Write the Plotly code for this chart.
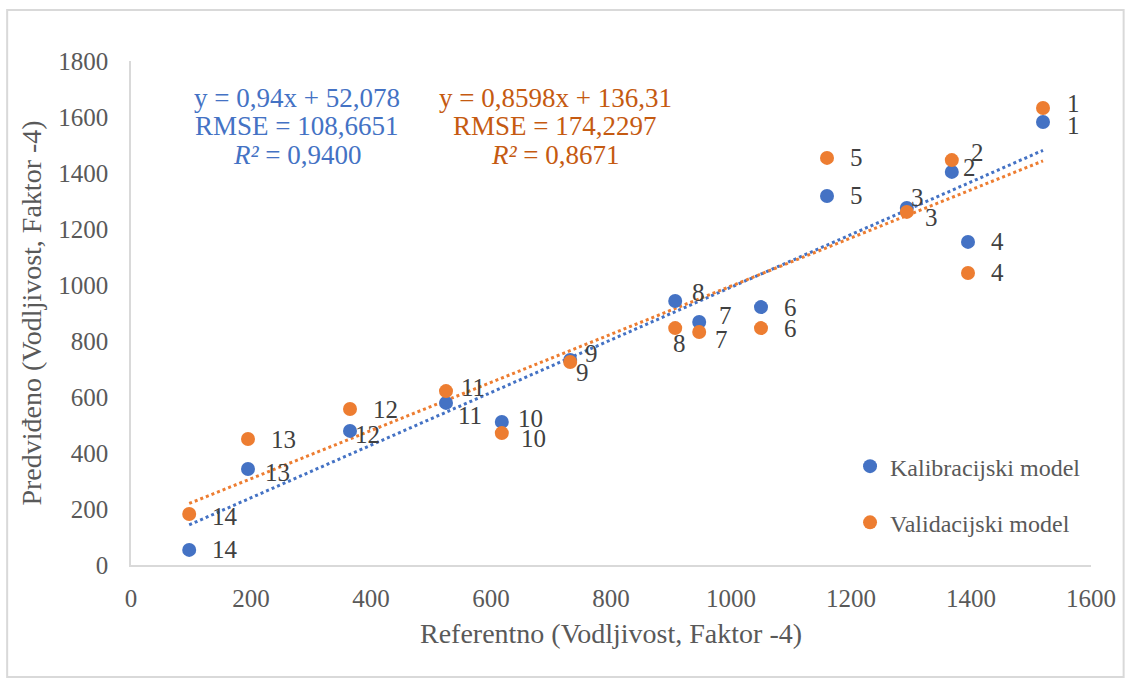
import plotly.graph_objects as go

# Reference conductivity (x) shared by both models, sample ids 1..14
sample_ids = [str(i) for i in range(1, 15)]
referentno = [1520, 1368, 1293, 1395, 1160, 1050, 947, 907, 732, 618, 525, 365, 195, 97]

# Predicted values
kalibracija = [1582, 1404, 1275, 1154, 1318, 921, 868, 943, 732, 511, 579, 479, 343, 54]
validacija = [1632, 1446, 1261, 1043, 1454, 846, 832, 846, 725, 471, 621, 557, 450, 182]

# Fit statistics
cal_slope, cal_intercept, cal_rmse, cal_r2 = 0.94, 52.078, 108.6651, 0.9400
val_slope, val_intercept, val_rmse, val_r2 = 0.8598, 136.31, 174.2297, 0.8671

# Data label offsets in pixels (dx right, dy down)
cal_label_offsets = [(30, 3), (18, -4), (11, -11), (29, 0), (29, 0), (29, 0), (26, -6),
                     (23, -8), (21, -7), (29, -3), (24, 13), (17, 4), (29, 4), (36, 0)]
val_label_offsets = [(30, -5), (26, -8), (25, 6), (29, 0), (29, 0), (29, 0), (22, 7),
                     (4, 15), (12, 10), (32, 5), (27, -4), (35, 0), (35, 0), (36, 2)]

BLUE = "#4472C4"
ORANGE = "#ED7D31"
ORANGE_TEXT = "#C55A11"
GREY = "#595959"
SERIF = "Liberation Serif"


def dec(v, nd):
    return f"{v:.{nd}f}".replace(".", ",")


fig = go.Figure()

# Linear trend lines over the x extent
xmin, xmax = min(referentno), max(referentno)
for slope, intercept, color in [(cal_slope, cal_intercept, BLUE), (val_slope, val_intercept, ORANGE)]:
    fig.add_trace(go.Scatter(
        x=[xmin, xmax], y=[slope * xmin + intercept, slope * xmax + intercept],
        mode="lines", line=dict(color=color, width=3, dash="dot"),
        showlegend=False, hoverinfo="skip"))

fig.add_trace(go.Scatter(
    x=referentno, y=kalibracija, mode="markers", name="Kalibracijski model",
    marker=dict(color=BLUE, size=14), legendgroup="a"))
fig.add_trace(go.Scatter(
    x=referentno, y=validacija, mode="markers", name="Validacijski model",
    marker=dict(color=ORANGE, size=14), legendgroup="b"))

annotations = []
for ys, offsets in [(kalibracija, cal_label_offsets), (validacija, val_label_offsets)]:
    for sid, xv, yv, (dx, dy) in zip(sample_ids, referentno, ys, offsets):
        annotations.append(dict(
            x=xv, y=yv, xref="x", yref="y", text=sid, showarrow=False,
            xanchor="center", yanchor="middle",
            xshift=dx, yshift=-dy, font=dict(family=SERIF, size=25, color="#404040")))

# Trend-line equation blocks, one annotation per line
line_y = [0.927, 0.871, 0.813]
blocks = [
    (0.173, BLUE, [f"y = {dec(cal_slope, 2)}x + {dec(cal_intercept, 3)}",
                   f"RMSE = {dec(cal_rmse, 4)}",
                   f"<i>R²</i> = {dec(cal_r2, 4)}"]),
    (0.442, ORANGE_TEXT, [f"y = {dec(val_slope, 4)}x + {dec(val_intercept, 2)}",
                          f"RMSE = {dec(val_rmse, 4)}",
                          f"<i>R²</i> = {dec(val_r2, 4)}"]),
]
for bx, color, lines in blocks:
    for ly, txt in zip(line_y, lines):
        annotations.append(dict(
            x=bx, y=ly, xref="paper", yref="paper", showarrow=False,
            xanchor="center", yanchor="middle", text=txt,
            font=dict(family=SERIF, size=27, color=color)))

# Outer chart border
shapes = [dict(type="rect", xref="paper", yref="paper",
               x0=-0.129, x1=1.034, y0=-0.222, y1=1.101,
               line=dict(color="#d9d9d9", width=2), fillcolor="rgba(0,0,0,0)")]

fig.update_layout(
    width=1130, height=686,
    margin=dict(l=131, r=39, t=61, b=121),
    paper_bgcolor="white", plot_bgcolor="white",
    font=dict(family=SERIF, color=GREY),
    annotations=annotations, shapes=shapes,
    legend=dict(x=0.749, y=0.24, xanchor="left", yanchor="top",
                font=dict(family=SERIF, size=24, color=GREY),
                tracegroupgap=22, itemwidth=30, bgcolor="rgba(0,0,0,0)"),
    xaxis=dict(range=[0, 1600], dtick=200, showgrid=False, zeroline=False,
               showline=True, linecolor="#d9d9d9", linewidth=1.5, ticks="",
               ticklabelstandoff=10,
               tickfont=dict(family=SERIF, size=25, color=GREY),
               title=dict(text="Referentno (Vodljivost, Faktor -4)", standoff=13,
                          font=dict(family=SERIF, size=28, color=GREY))),
    yaxis=dict(range=[0, 1800], dtick=200, showgrid=False, zeroline=False,
               showline=True, linecolor="#d9d9d9", linewidth=1.5, ticks="",
               ticklabelstandoff=16,
               tickfont=dict(family=SERIF, size=25, color=GREY),
               title=dict(text="Predviđeno (Vodljivost, Faktor -4)", standoff=8,
                          font=dict(family=SERIF, size=28, color=GREY))),
)

fig.write_html("out.html")
